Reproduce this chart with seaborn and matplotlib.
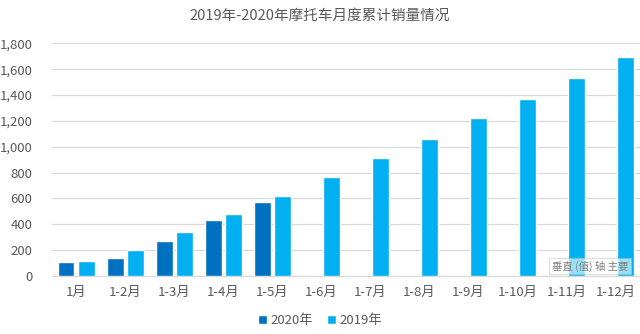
import matplotlib
matplotlib.use("Agg")
import matplotlib.pyplot as plt
import seaborn as sns
import pandas as pd
from matplotlib.ticker import FuncFormatter

categories = ["1月", "1-2月", "1-3月", "1-4月", "1-5月", "1-6月", "1-7月",
              "1-8月", "1-9月", "1-10月", "1-11月", "1-12月"]
sales_2020 = [108, 137, 270, 432, 571, None, None, None, None, None, None, None]
sales_2019 = [116, 198, 342, 479, 618, 762, 909, 1059, 1224, 1369, 1532, 1692]
series_names = ["2020年", "2019年"]
yticks = [0, 200, 400, 600, 800, 1000, 1200, 1400, 1600, 1800]

rows = []
for c, a, b in zip(categories, sales_2020, sales_2019):
    rows.append({"月份": c, "年份": series_names[0], "销量": a})
    rows.append({"月份": c, "年份": series_names[1], "销量": b})
df = pd.DataFrame(rows)

sns.set_theme(style="white")
plt.rcParams["font.family"] = ["Noto Sans CJK SC", "DejaVu Sans"]

fig = plt.figure(figsize=(6.4, 3.34), dpi=100)
ax = fig.add_axes([0.081, 0.174, 0.919, 0.696])

palette = {"2020年": "#0070C0", "2019年": "#00B0F0"}
sns.barplot(data=df, x="月份", y="销量", hue="年份", hue_order=series_names,
            order=categories, palette=palette, width=0.84, gap=0.18,
            saturation=1, ax=ax, legend=True, zorder=3)

ax.set_ylim(0, 1800)
ax.set_xlim(-0.5, len(categories) - 0.5)
ax.set_yticks(yticks)
ax.yaxis.set_major_formatter(FuncFormatter(lambda v, p: f"{int(v):,}"))
ax.grid(axis="y", color="#D9D9D9", linewidth=0.9, zorder=0)
ax.set_axisbelow(True)
for s in ["top", "right", "left"]:
    ax.spines[s].set_visible(False)
ax.spines["bottom"].set_color("#D9D9D9")
ax.spines["bottom"].set_linewidth(0.9)
ax.tick_params(axis="both", length=0, colors="#595959", labelsize=9.5)
ax.tick_params(axis="x", pad=7)
ax.tick_params(axis="y", pad=14)
ax.set_xlabel("")
ax.set_ylabel("")

fig.text(0.5, 0.952, "2019年-2020年摩托车月度累计销量情况", ha="center",
         va="center", fontsize=10.5, color="#595959")

ax.legend(loc="lower center", bbox_to_anchor=(0.5, -0.015),
          bbox_transform=fig.transFigure, ncol=2, frameon=False,
          fontsize=9.5, labelcolor="#595959", handlelength=0.7,
          handleheight=0.7, handletextpad=0.3, columnspacing=1.0)

fig.text(0.862, 0.186, "垂直 (值) 轴 主要", fontsize=7.5, color="#7F7F7F",
         ha="left", va="bottom",
         bbox=dict(boxstyle="square,pad=0.25", facecolor="white", alpha=0.6,
                   edgecolor="#BFBFBF", linewidth=0.6))

fig.savefig("out.png", dpi=100)
